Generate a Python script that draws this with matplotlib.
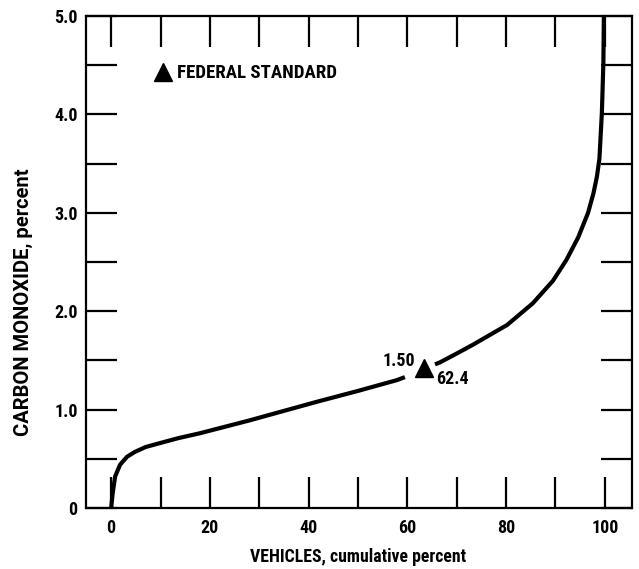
import matplotlib
matplotlib.use("Agg")
import matplotlib.pyplot as plt
from matplotlib.ticker import FixedLocator

# Curve data, split at the marker gap
curve_a_x = [0, 0.1, 0.3, 0.8, 1.8, 3.2, 4.8, 7.0, 9.9, 13.6, 18, 28, 41.7, 50, 57.9, 59.5]
curve_a_y = [0, 0.05, 0.15, 0.32, 0.44, 0.52, 0.57, 0.62, 0.66, 0.71, 0.76, 0.89, 1.08, 1.19, 1.30, 1.33]
curve_b_x = [65.6, 66.6, 70, 73.3, 80.2, 85.4, 89.5, 92.2, 94.6, 96.6, 97.7, 98.4, 98.9, 99.4, 99.7, 99.8]
curve_b_y = [1.46, 1.48, 1.57, 1.66, 1.86, 2.08, 2.31, 2.52, 2.75, 3.0, 3.2, 3.37, 3.55, 4.02, 4.52, 5.0]

# Federal standard point and its annotation texts
std_x, std_y = 63.3, 1.42
std_label_y = "1.50"
std_label_x = "62.4"
legend_x, legend_y = 10.5, 4.43
legend_text = "FEDERAL STANDARD"

x_ticks = [0, 10, 20, 30, 40, 50, 60, 70, 80, 90, 100]
x_labels = ["0", "", "20", "", "40", "", "60", "", "80", "", "100"]
y_ticks = [0, 0.5, 1.0, 1.5, 2.0, 2.5, 3.0, 3.5, 4.0, 4.5, 5.0]
y_labels = ["0", "", "1.0", "", "2.0", "", "3.0", "", "4.0", "", "5.0"]

FAM = ["Roboto Condensed", "DejaVu Sans"]
FAM_Y = ["Roboto", "DejaVu Sans"]
plt.rcParams["font.family"] = FAM
plt.rcParams["font.weight"] = "bold"
font = dict(family=FAM, weight="bold")

fig = plt.figure(figsize=(6.39, 5.69), dpi=100)
ax = fig.add_axes([86/639, 1-508/569, (632-86)/639, (508-16)/569])
ax.set_xlim(-5.1, 105.5)
ax.set_ylim(0, 5.0)

ax.plot(curve_a_x, curve_a_y, color="black", lw=3.0, solid_capstyle="butt")
ax.plot(curve_b_x, curve_b_y, color="black", lw=3.0, solid_capstyle="butt")
ax.plot([std_x], [std_y], marker="^", color="black", markersize=12.5, ls="none")
ax.plot([legend_x], [legend_y], marker="^", color="black", markersize=12.5, ls="none", clip_on=False)

ax.text(std_x - 1.8, std_y + 0.07, std_label_y, ha="right", va="center", fontsize=13, **font)
ax.text(std_x + 2.6, std_y - 0.11, std_label_x, ha="left", va="center", fontsize=13, **font)
ax.text(legend_x + 2.8, legend_y - 0.01, legend_text, ha="left", va="center", fontsize=13.6, **font)

ax.xaxis.set_major_locator(FixedLocator(x_ticks))
ax.yaxis.set_major_locator(FixedLocator(y_ticks))
ax.set_xticklabels(x_labels)
ax.set_yticklabels(y_labels)
for lab in ax.get_xticklabels() + ax.get_yticklabels():
    lab.set_fontsize(13)
    lab.set_fontweight("bold")
    lab.set_family(FAM)

ax.tick_params(axis="both", direction="in", length=22, width=1.6,
               top=True, right=True, labeltop=False, labelright=False)
ax.tick_params(axis="x", pad=8)
ax.tick_params(axis="y", pad=6)
for sp in ax.spines.values():
    sp.set_linewidth(1.6)

ax.set_xlabel("VEHICLES, cumulative percent", fontsize=12.8, **font)
ax.set_ylabel("CARBON MONOXIDE, percent", fontsize=14.5, family=FAM_Y, weight="bold")
ax.xaxis.set_label_coords((358-86)/546, -(548-508)/492)
ax.yaxis.set_label_coords(-(86-33)/546, (508-302)/492)

fig.savefig("out.png", dpi=100)
